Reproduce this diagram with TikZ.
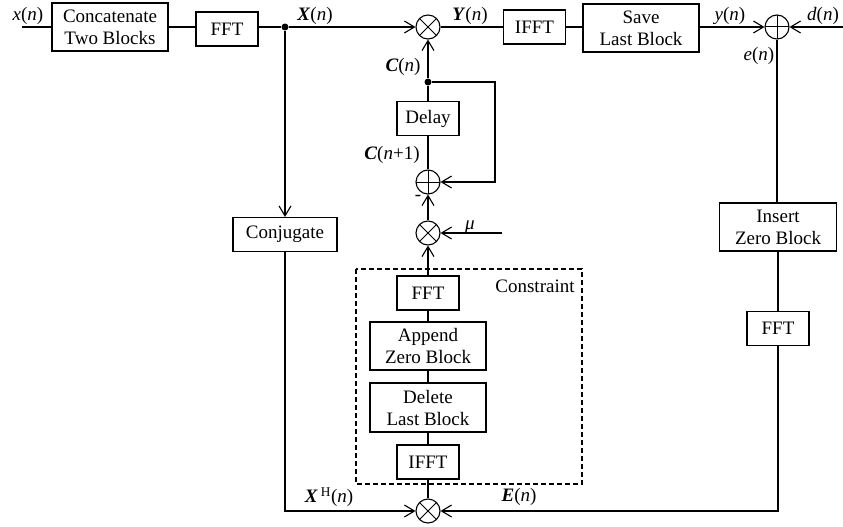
\documentclass[tikz,border=0pt]{standalone}
\usepackage{fontspec}
\setmainfont{Liberation Serif}
\usetikzlibrary{arrows.meta}
\newcommand{\bi}[1]{\textbf{\textit{#1}}}
\begin{document}
\begin{tikzpicture}[x=1pt,y=-1pt,
  line width=1.1pt,
  font=\fontsize{19}{22}\selectfont,
  blk/.style={draw,rectangle,inner sep=0pt,align=center,minimum height=34pt},
  blkone/.style={blk,minimum width=62pt},
  blktwo/.style={blk,minimum width=116pt,minimum height=48pt},
  op/.style={draw,circle,minimum size=24pt,inner sep=0pt},
  mul/.style={op,path picture={
      \draw[line width=1pt] (path picture bounding box.north west) -- (path picture bounding box.south east)
        (path picture bounding box.north east) -- (path picture bounding box.south west);}},
  add/.style={op,path picture={
      \draw[line width=1pt] (path picture bounding box.north) -- (path picture bounding box.south)
        (path picture bounding box.west) -- (path picture bounding box.east);}},
  sig/.style={-{Straight Barb[length=10pt,width=12pt,line width=1.1pt]}},
  lbl/.style={inner sep=0pt},
  dot/.style={circle,fill,inner sep=0pt,minimum size=7pt}
]
\useasboundingbox (0,0) rectangle (843,527);

% top signal path
\coordinate (xin) at (22,27);
\node[blktwo] (concat) at (110,27) {Concatenate\\Two Blocks};
\node[blkone] (fft1) at (227,29) {FFT};
\node[dot] (xdot) at (285,27) {};
\node[mul] (m1) at (428,27) {};
\node[blkone] (ifft1) at (534.5,27) {IFFT};
\node[blktwo] (save) at (641,28) {Save\\Last Block};
\node[add] (sumr) at (777,27) {};
\coordinate (din) at (843,27);

% error path on the right
\node[blktwo,minimum width=117pt] (insert) at (778,227) {Insert\\Zero Block};
\node[blkone] (fft3) at (778,328.5) {FFT};
\coordinate (ecorner) at (778,511);

% conjugate branch
\node[blk,minimum width=104pt] (conj) at (285,234.5) {Conjugate};
\coordinate (xcorner) at (285,511);

% coefficient update column
\node[dot] (cdot) at (428,82) {};
\node[blkone] (delay) at (428,118.5) {Delay};
\node[add] (sumc) at (428,182) {};
\node[mul] (mmu) at (428,233) {};
\coordinate (muin) at (502,233);
\coordinate (fbr) at (495,82);

% gradient constraint
\draw[dashed,dash pattern=on 5pt off 3pt] (356,269) rectangle (582,484);
\node[lbl] (ctitle) at (535,286) {Constraint};
\node[blkone] (cfft) at (428,293) {FFT};
\node[blktwo] (append) at (428,346) {Append\\Zero Block};
\node[blktwo,minimum height=49pt] (delete) at (428,407.5) {Delete\\Last Block};
\node[blkone] (cifft) at (428,462) {IFFT};
\node[mul] (mb) at (428,511) {};

% connectors
\draw (xin) -- (concat.west);
\draw (concat.east) -- (concat.east -| fft1.west);
\draw (fft1.east |- xdot) -- (xdot);
\draw[sig] (xdot) -- (m1);
\draw (m1) -- (ifft1);
\draw (ifft1.east) -- (ifft1.east -| save.west);
\draw[sig] (save.east |- sumr) -- (sumr);
\draw[sig] (din) -- (sumr);
\draw (sumr) -- (sumr |- insert.north);
\draw (insert.south -| fft3) -- (fft3.north);
\draw[sig] (fft3.south) -- (ecorner) -- (mb);
\draw[sig] (xdot) -- (conj.north);
\draw[sig] (conj.south) -- (xcorner) -- (mb);
\draw[sig] (cdot) -- (m1);
\draw (cdot) -- (delay);
\draw (delay) -- (sumc);
\draw[sig] (cdot) -- (fbr) |- (sumc);
\draw[sig] (mmu) -- (sumc);
\draw[sig] (muin) -- (mmu);
\draw[sig] (cfft) -- (mmu);
\draw (cfft) -- (append);
\draw (append) -- (delete);
\draw (delete) -- (cifft);
\draw (cifft) -- (mb);

% signal labels
\node[lbl] (lx) at (28,16) {\textit{x}(\textit{n})};
\node[lbl] (lX) at (315,16) {\bi{X}(\textit{n})};
\node[lbl] (lY) at (470,16) {\bi{Y}(\textit{n})};
\node[lbl] (ly) at (730,16) {\textit{y}(\textit{n})};
\node[lbl] (ld) at (823,16) {\textit{d}(\textit{n})};
\node[lbl] (le) at (759,56) {\textit{e}(\textit{n})};
\node[lbl] (lC) at (403,67) {\bi{C}(\textit{n})};
\node[lbl] (lC1) at (392,155) {\bi{C}(\textit{n}+1)};
\node[lbl] (lminus) at (418,198) {-};
\node[lbl] (lmu) at (470,227) {\textit{μ}};
\node[lbl] (lXH) at (329,497) {\bi{X}\,\textsuperscript{H}(\textit{n})};
\node[lbl] (lE) at (519,497) {\bi{E}(\textit{n})};
\end{tikzpicture}
\end{document}
